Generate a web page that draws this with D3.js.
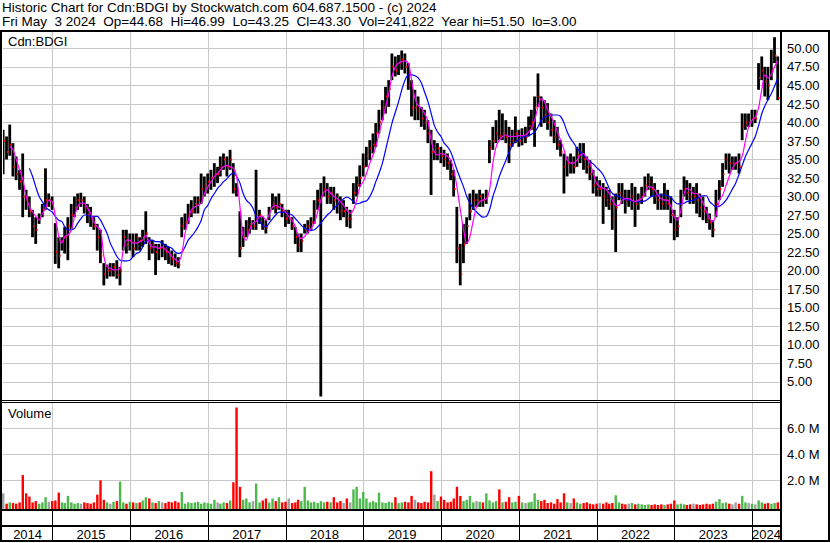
<!DOCTYPE html>
<html>
<head>
<meta charset="utf-8">
<script src="https://cdn.jsdelivr.net/npm/d3@7"></script>
<style>
  body { margin: 0; background: #fff; }
  svg { display: block; font-family: "Liberation Sans", Arial, sans-serif; }
</style>
</head>
<body>
<svg id="chart" width="830" height="543"></svg>
<script>
// header text
const titleLine = "Historic Chart for Cdn:BDGI by Stockwatch.com 604.687.1500 - (c) 2024";
const quoteLine = "Fri May  3 2024  Op=44.68  Hi=46.99  Lo=43.25  Cl=43.30  Vol=241,822  Year hi=51.50  lo=3.00";
const symbol = "Cdn:BDGI";

// tick labels
const priceTicks = [5, 7.5, 10, 12.5, 15, 17.5, 20, 22.5, 25, 27.5, 30, 32.5, 35, 37.5, 40, 42.5, 45, 47.5, 50];
const volTicks = [2, 4, 6];
const yearLabels = ["2014", "2015", "2016", "2017", "2018", "2019", "2020", "2021", "2022", "2023", "2024"];

// half-month samples, 1st and 16th of each month, 16 May 2014 .. 1 May 2024
const firstMonth = "2014-05", lastMonth = "2024-05";

const hi = [39,38.1,39.7,37.2,35.4,33.6,35.8,30.9,30,28.2,27.2,27.7,29,33.8,30.4,30,26.4,24.5,24.5,25.9,
  27.2,29,30,30.4,30.5,30,29,28.6,27.2,26.3,25.5,21,20.8,21,21,21.4,20.5,25.5,25.5,25,
  25,25,24.5,25.5,28,24.5,24.1,23.6,23.6,24.1,23.6,23.2,22.7,22.3,21.8,27.2,27.7,29,29.5,30,
  30,33.1,32.7,33.1,33.6,34.5,34,35.4,35.8,35.4,36.3,34.5,31.8,28,25.9,26.8,27.2,26.8,33.6,28.2,
  27.2,26.8,28.6,30.4,30,30.4,29,28.2,28.2,27.2,25.9,25,25,26.3,26.8,27.2,29.5,30.9,31.8,32.7,
  31.8,31.3,31.3,30.4,30,29.5,28.6,28.2,31.8,32.7,34.2,35.8,36.7,37.6,38.5,39.9,41.7,43,44.8,45.7,
  49.3,48.9,49.1,49.7,49.3,48,45.7,44.4,43.5,42.1,41.7,40.3,39,37.6,37.2,36.7,36.3,35.8,34.9,33.6,
  28.6,23.6,26.3,27.2,30.4,30.9,30.4,30.9,30.4,30.9,37.6,39.4,40.3,41.7,41.2,40.3,39.4,39,40.8,39,
  39.2,39.4,40.8,41.7,43.5,46.6,43.5,43,42.6,41.2,40.3,39.4,37.6,35.8,35.4,35.8,35.4,36.7,37.2,37.2,
  35.4,34.9,33.6,32.7,32.2,31.8,31.3,30.9,30,30.4,31.8,31.8,30.9,30.9,31.8,31.3,30.4,31.3,32.7,33.1,
  32.7,31.8,30.9,30.4,31.8,30.9,30,28.2,27.2,30.9,32.7,32.2,31.8,31.3,31.8,30.4,30,28.6,27.7,26.8,
  30.9,32.2,34.5,35.8,35.8,35.4,35.4,35.8,41.2,41.2,41.2,41.7,41.7,48,48.9,47.5,47.5,49.8,51.5,48.9];

const lo = [33,35,35.5,32.7,32.2,30.9,27.2,28.2,27.2,24.5,23.6,26.3,27.2,28.2,28.6,28.2,20.9,20.3,22.7,22.3,
  21.4,25.5,27.2,28.2,28.6,27.7,26.4,25.9,25.5,22.7,21,18,18.9,19.2,19.2,18.9,18,22.7,22.3,22.7,
  21.8,22.7,22.7,23.2,23.6,21.4,22.3,19.4,21.4,21.8,21.4,20.9,20.7,20.5,20.3,24.5,25.5,26.3,27.2,27.7,
  27.7,29,30,30.4,30.9,31.3,31.8,32.7,33.6,32.7,33.6,30.4,30,21.8,23.2,24.5,25,25.5,25.5,26.3,
  25.5,25,26.8,28.2,27.7,28.2,27.2,25.9,26.3,25.5,23.6,22.5,22.5,25,25,25.5,26.3,28.2,3.0,30,
  29,29,28.2,27.7,26.8,27.2,25.9,25.7,29,30,31.3,32.7,34,34.9,35.8,36.7,38.5,40.3,41.2,42.1,
  45.7,46.2,46.4,47.1,46.6,44.4,40.8,40.3,40.3,39.4,39,37.2,30.2,34.9,34.9,34.5,34,33.6,32.2,30,
  21,18,21,23.6,26.8,28.2,28.6,28.6,28.6,29,34.5,36.3,37.2,37.6,37.6,37.2,34.5,36.7,37.2,36.7,
  36.9,37.2,38.1,39,36.7,42.1,39.4,39.9,39,38.1,37.2,36.3,35.4,30.4,32.7,33.1,33.1,34,34.5,33.6,
  33.1,32.2,30.4,30,30,26.3,28.6,28.2,25.5,22.5,29.5,29,27.7,28.6,28.2,25.9,28.2,29,30,30.9,
  30,29,28.2,28.2,28.2,28.2,26.4,24.1,24.5,27.2,30,29.5,29,29,27.7,27.2,26.8,26.4,25.5,24.5,
  27.2,29.5,31.3,33.6,33.1,33.6,33.6,33.1,37.6,39,39.4,39.4,39.9,44.4,45.7,43.5,43,45.7,48,43];

const cl = [37.5,36,37,34,33,32,30,29.5,28,26,25.5,27,28.2,29.5,29.5,29,22.5,22,24,24.5,
  26,27.5,28.5,29.5,29.5,28.5,27.5,27,26,24.5,22,19.5,20,20,20.5,19.4,20,24.5,23.5,24,
  23,24.5,24,24.5,25,23,23.5,22.5,23,23,22.5,22,21.5,21,20.8,26,26.5,27.5,28,29,
  29.5,31,31.5,32,32.5,33,33,34,35,34,35,31,30.5,23,24.5,25.5,26,26,27,27.5,
  26,25.8,28,29,28.5,29,28,27,27,26,24.5,23.5,24,25.5,26,26.5,28,29.5,30,31,
  30,30.5,29.5,29,28,28,27,27,30.5,31.5,32.5,34,35.5,36.5,37,38.5,40,42,43.5,44.5,
  47.5,47,48,48.5,47.5,45,42,42,41.5,40.5,40,38.5,36,36,36.5,35.5,35,34.5,33,31,
  23,19.5,23.5,26,28,29.5,29.5,30,29.5,30,36.5,37.5,38.5,38.2,38.5,38,37,37.5,38.5,37.5,
  38,38,39.5,40,42,43.5,42,41,40,39,38,37,36,34,34.5,34.5,34,35.5,36,35,
  34,33,31.5,31,31,30,29.5,29,27,28.5,30.5,30,29.5,29.5,30,29,29.5,30,31.5,32,
  31,30,29.5,29,29.5,29,27.5,25.5,26,29.5,31,30.5,30,30,29.5,28.5,28,27,26.5,25.5,
  29,31,33,35,34.5,34.5,34.5,34,39.5,40,40,40.5,40.5,46,47,45.5,45,47,49,43.3];

// short average (magenta)
const maShort = [null,null,36.7,36.3,35,33.6,32.3,30,28.6,27.9,27.3,26.8,27.7,28.4,29.5,29.3,27.3,24.6,23.7,24.6,
  24.8,25.5,27.3,28.6,29.1,29.1,28.4,27.7,26.6,25.9,25.5,21.9,20.5,20.3,20.1,20.1,20.3,22.8,24.1,24.1,
  23.7,23.7,23.9,24.1,24.8,23.7,23.2,23.2,23,23.2,22.8,22.5,21.9,21.5,21.2,22.3,25,26.8,28.2,28.6,
  28.8,29.1,30.4,31.3,32,32.7,33.1,33.6,34,34.2,34,33.8,32.7,28.6,24.6,24.1,25.5,26.4,26.6,27.3,
  27.3,26.8,27.5,28.6,28.8,28.6,28.4,27.9,27.3,26.8,25.9,24.8,24.3,24.6,25.2,25.7,26.4,27.9,29.5,30.6,
  30.9,30.4,30,29.7,29.3,28.8,28.2,27.7,28.2,29.5,31.3,32,33.1,34.5,35.6,36.7,38.5,40.3,42.1,43.9,
  46.2,47.5,48,48.2,48.3,48,45.7,43.2,42.3,41.9,41.2,40.1,37.6,36,35.6,35.8,35.7,35.4,34.9,33.6,
  31.3,28.2,25.5,23.7,24.6,26.8,28.6,29.3,29.5,29.7,30.9,34.5,36.7,37.6,38.1,38.3,38.1,38.1,38.1,38.2,
  38.2,38.3,38.7,39.2,40.3,42.1,43.2,42.8,41.7,40.8,39.9,38.7,37.6,36.3,34.9,34.5,34.5,34.9,35.6,35.8,
  35.1,34.5,33.1,31.8,31.3,31.1,30.9,30.4,29.5,28.8,28.8,29.5,29.7,29.7,29.5,29.3,29.5,29.7,30.4,31.3,
  31.3,30.9,30.2,29.7,29.5,29.5,28.6,27.3,26.8,28.2,30.4,31.1,30.9,30.4,30.4,30,29.1,27.9,27,26.6,
  27.5,29.5,30.2,31.5,32.7,33.8,34.5,34.7,35.5,37.5,39.4,40.3,40.7,42,44.5,46.4,46,46.5,47.5,48.3];

// long average (blue)
const maLong = [null,null,null,null,null,null,null,null,33.8,32.7,31.3,30,29.3,28.6,28.2,27.9,27.3,26.8,26.6,25.9,
  25.5,25.5,25.7,26.4,27,27.5,27.5,27.3,27.3,27.3,26.8,25.9,25,23.7,22.8,21.9,21.4,21.3,21.3,21.4,
  21.9,22.3,22.5,23.2,23.9,24.1,24.1,23.9,23.9,23.7,23.4,23.2,23,22.5,22.3,22.5,23.2,24.1,24.6,25.2,
  25.9,26.8,28.2,28.8,29.7,30.4,31.1,31.5,32,32.4,32.9,33.2,32.7,31.8,30.4,29.5,29.1,28.4,27.3,26.6,
  26.1,25.9,26.4,27,27.5,27.9,27.9,27.8,27.7,27.5,27,26.6,26.1,25.7,25.5,25.4,25.5,25.9,26.4,27,
  27.5,27.9,28.4,28.8,29.3,29.7,29.9,29.7,29.3,29,29.1,29.3,29.4,30,30.9,32,33.1,34.5,36.3,38.1,
  39.9,41.4,42.8,44.4,45.7,46.4,46.4,46.3,46,45.3,44.1,42.8,41.2,39.6,38.7,38.1,37.2,36.7,36,34.9,
  33.6,32.4,31.3,30,29.1,28.4,27.9,27.5,27.2,27.3,28.2,30,31.3,32.7,33.8,34.9,36,36.9,37.4,37.7,
  38,38.1,38.2,38.4,38.7,39.4,40.3,40.7,40.9,41,41,41,40.8,39.9,38.7,37.8,37.2,36.5,36,35.6,
  35.1,34.7,34.4,33.9,33.5,32.9,32,31.1,30.4,30.1,30,29.8,29.6,29.5,29.4,29.3,29.3,29.3,29.4,29.7,
  30,30.1,30.2,30.2,30.2,30.1,29.9,29.3,29,29,29.1,29.3,29.4,29.5,29.7,30,30.1,30.1,29.3,28.9,
  28.6,28.7,29,29.5,30.2,31,31.8,33,34.2,35.4,36.3,37.2,38.1,39.6,41.2,42.2,43.1,43.9,44.9,46];

// volume, millions of shares
const vol = [1.0,0.2,0.3,0.25,0.2,0.3,2.4,1.0,0.75,0.3,0.4,0.2,0.3,0.7,0.35,0.4,0.45,1.05,0.3,0.25,
  0.8,0.3,0.2,0.25,0.2,0.3,0.25,0.2,0.3,0.9,2.0,0.5,0.3,0.2,0.35,0.4,1.9,0.3,0.2,0.35,
  0.3,0.25,0.3,0.45,0.7,0.6,0.3,0.25,0.4,0.3,0.25,0.35,0.3,0.4,0.3,1.1,0.2,0.3,0.25,0.3,
  0.35,0.2,0.3,0.25,0.2,0.5,0.3,0.2,0.3,0.25,0.45,1.85,7.6,1.5,0.5,0.6,0.3,0.4,1.75,0.3,
  0.45,0.6,0.3,0.6,0.4,0.7,0.3,0.35,0.6,0.25,0.3,0.5,0.4,1.5,0.45,0.3,0.35,0.25,0.4,0.3,
  0.35,0.3,0.7,0.3,0.4,0.25,0.6,0.3,1.3,1.5,0.6,1.1,0.6,0.3,0.4,0.3,1.05,0.3,0.25,0.35,
  0.3,0.7,0.25,0.3,0.35,0.3,0.8,0.5,0.3,0.25,0.35,0.3,2.7,0.9,0.4,0.75,0.5,0.3,0.35,0.6,
  1.5,0.8,0.4,0.5,0.8,0.3,0.4,0.35,0.3,1.0,0.45,0.3,0.4,1.3,0.3,0.35,0.7,0.3,0.35,0.8,
  0.3,0.25,0.3,0.35,1.0,0.5,0.4,0.5,0.25,0.3,0.2,0.55,0.3,1.0,0.3,0.25,0.6,0.3,0.2,0.25,
  0.3,0.2,0.15,0.2,0.25,0.2,0.3,0.2,0.25,0.85,0.3,0.2,0.15,0.2,0.25,0.15,0.2,0.15,0.1,0.15,
  0.1,0.15,0.1,0.15,0.1,0.15,0.2,0.45,0.15,0.2,0.15,0.1,0.15,0.2,0.15,0.1,0.15,0.2,0.15,0.2,
  0.35,0.55,0.25,0.3,0.2,0.15,0.3,0.2,0.8,0.3,0.25,0.2,0.15,0.45,0.3,0.2,0.25,0.2,0.25,0.3];

// build sample dates (1st and 16th of each month)
const dates = [];
d3.utcMonth.range(d3.utcParse("%Y-%m")(firstMonth), d3.utcMonth.offset(d3.utcParse("%Y-%m")(lastMonth), 1))
  .forEach(m => { dates.push(m); dates.push(d3.utcDay.offset(m, 15)); });
dates.shift();   // start at 16 May 2014
dates.pop();     // end at 1 May 2024

const data = dates.map((d, i) => ({ date: d, hi: hi[i], lo: lo[i], cl: cl[i], vol: vol[i],
  prev: i > 0 ? cl[i - 1] : cl[i] }));

const svg = d3.select("#chart");
const left = 3, right = 781;

const x = d3.scaleUtc()
  .domain([d3.utcParse("%Y-%m-%d")("2014-05-15"), d3.utcParse("%Y-%m-%d")("2024-05-16")])
  .range([left, right]);
const y = d3.scaleLinear().domain([2.5, 52.2]).range([400.2, 32]);
const yv = d3.scaleLinear().domain([0, 6]).range([506.3, 428.3]);

const yearStarts = d3.utcYear.range(d3.utcParse("%Y")("2015"), d3.utcParse("%Y")("2025"));

// header
svg.append("text").attr("x", 2).attr("y", 12).attr("font-size", 13.5).text(titleLine);
svg.append("text").attr("x", 2).attr("y", 26).attr("font-size", 13.5)
  .style("white-space", "pre").text(quoteLine);

// grid
const grid = svg.append("g").attr("stroke", "#c8c8c8").attr("stroke-width", 1);
grid.selectAll(".hp").data(priceTicks).enter().append("line")
  .attr("x1", left).attr("x2", right)
  .attr("y1", d => Math.round(y(d)) + 0.5).attr("y2", d => Math.round(y(d)) + 0.5);
grid.selectAll(".hv").data(volTicks).enter().append("line")
  .attr("x1", left).attr("x2", right)
  .attr("y1", d => Math.round(yv(d)) + 0.5).attr("y2", d => Math.round(yv(d)) + 0.5);
grid.selectAll(".vp").data(yearStarts).enter().append("line")
  .attr("x1", d => Math.round(x(d)) + 0.5).attr("x2", d => Math.round(x(d)) + 0.5)
  .attr("y1", 32).attr("y2", 400);
grid.selectAll(".vv").data(yearStarts).enter().append("line")
  .attr("x1", d => Math.round(x(d)) + 0.5).attr("x2", d => Math.round(x(d)) + 0.5)
  .attr("y1", 403).attr("y2", 509);

// price bars
svg.append("clipPath").attr("id", "pclip").append("rect")
  .attr("x", left).attr("y", 32).attr("width", right - left).attr("height", 368);
const price = svg.append("g").attr("clip-path", "url(#pclip)");

price.selectAll(".bar").data(data).enter().append("rect")
  .attr("x", d => x(d.date) - 1.5)
  .attr("width", 2.8)
  .attr("y", d => y(d.hi))
  .attr("height", d => Math.max(1, y(d.lo) - y(d.hi)))
  .attr("fill", "#000");

price.selectAll(".close").data(data).enter().append("rect")
  .attr("x", d => x(d.date) + 0.3)
  .attr("width", 1.6)
  .attr("y", d => y(d.cl) - 1)
  .attr("height", 2)
  .attr("fill", "#ff0000");

const lineFor = arr => d3.line()
  .defined((d, i) => arr[i] != null)
  .x(d => x(d.date))
  .y((d, i) => y(arr[i]))
  .curve(d3.curveMonotoneX);

price.append("path").datum(data).attr("fill", "none").attr("stroke", "#0000ff")
  .attr("stroke-width", 1.2).attr("d", lineFor(maLong));
price.append("path").datum(data).attr("fill", "none").attr("stroke", "#ff00ff")
  .attr("stroke-width", 1.2).attr("d", lineFor(maShort));

// volume bars
svg.selectAll(".vbar").data(data).enter().append("rect")
  .attr("x", d => x(d.date) - 1.2)
  .attr("width", 2.4)
  .attr("y", d => yv(d.vol))
  .attr("height", d => 509.5 - yv(d.vol))
  .attr("fill", d => d.cl > d.prev ? "#4cb84c" : d.cl < d.prev ? "#ff0000" : "#a0a0a0");

// labels inside panels
svg.append("text").attr("x", 8).attr("y", 46).attr("font-size", 13).text(symbol);
svg.append("text").attr("x", 8).attr("y", 418).attr("font-size", 13).text("Volume");

// right axes
const pAxis = svg.append("g").attr("transform", `translate(${right},0)`)
  .call(d3.axisRight(y).tickValues(priceTicks).tickFormat(d3.format(".2f")).tickSize(0).tickPadding(6));
const vAxis = svg.append("g").attr("transform", `translate(${right},0)`)
  .call(d3.axisRight(yv).tickValues(volTicks).tickFormat(d => d.toFixed(1) + " M").tickSize(0).tickPadding(6));
[pAxis, vAxis].forEach(a => {
  a.select(".domain").remove();
  a.selectAll("text").attr("font-size", 13).attr("font-family", "Liberation Sans, Arial, sans-serif")
    .attr("fill", "#000");
});

// year row
const edges = [left].concat(yearStarts.map(d => x(d)), [right]);
svg.selectAll(".yr").data(yearLabels).enter().append("text")
  .attr("x", (d, i) => (edges[i] + edges[i + 1]) / 2)
  .attr("y", 539)
  .attr("text-anchor", "middle")
  .attr("font-size", 13)
  .text(d => d);

const frame = svg.append("g").attr("fill", "#000");
frame.selectAll(".yl").data(yearStarts).enter().append("rect")
  .attr("x", d => Math.round(x(d))).attr("y", 510).attr("width", 1).attr("height", 31);

// frame lines
frame.append("rect").attr("x", 0).attr("y", 30).attr("width", 830).attr("height", 2);
frame.append("rect").attr("x", 0).attr("y", 30).attr("width", 2).attr("height", 512);
frame.append("rect").attr("x", 780).attr("y", 30).attr("width", 2).attr("height", 512);
frame.append("rect").attr("x", 828).attr("y", 30).attr("width", 2).attr("height", 512);
frame.append("rect").attr("x", 0).attr("y", 540).attr("width", 830).attr("height", 2);
frame.append("rect").attr("x", 0).attr("y", 400).attr("width", 781).attr("height", 1);
frame.append("rect").attr("x", 0).attr("y", 402).attr("width", 781).attr("height", 1);
frame.append("rect").attr("x", 0).attr("y", 509).attr("width", 781).attr("height", 2);
frame.append("rect").attr("x", 0).attr("y", 525).attr("width", 781).attr("height", 2);
</script>
</body>
</html>
